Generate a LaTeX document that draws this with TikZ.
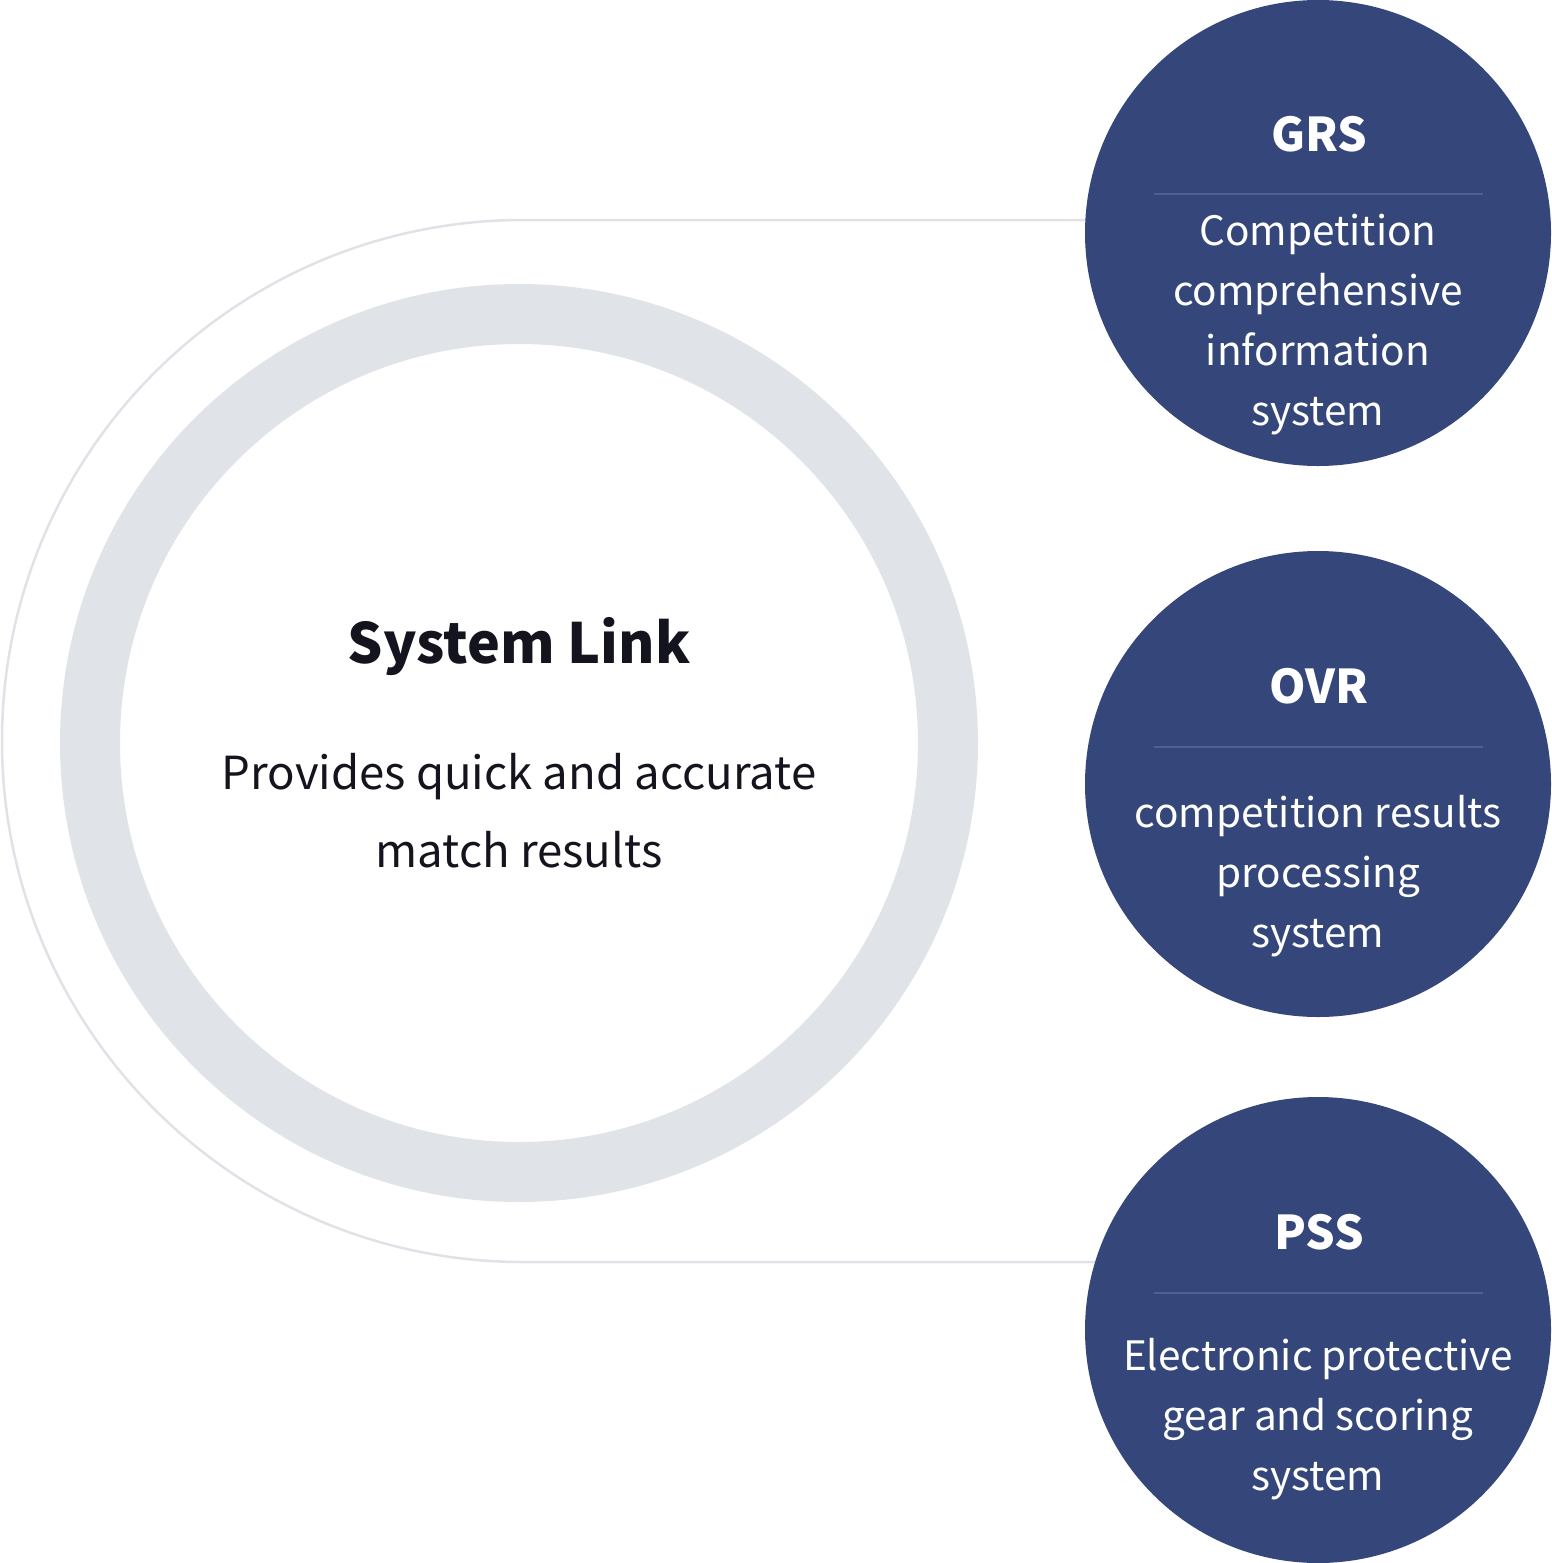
\documentclass[tikz,border=0pt]{standalone}
\usepackage{fontspec}
\setmainfont{Noto Sans CJK KR}
\usetikzlibrary{backgrounds}
\definecolor{navy}{HTML}{35477A}
\definecolor{ringgray}{HTML}{E0E3E8}
\definecolor{thingray}{HTML}{E0E2E7}
\definecolor{sepblue}{HTML}{4E6191}
\definecolor{inkdark}{HTML}{14141E}
\tikzset{
  sysbubble/.style={circle, fill=navy, minimum size=466pt, inner sep=0pt},
  bubtitle/.style={anchor=base, text=white, font=\fontsize{46.5}{56}\selectfont\bfseries},
  bubtext/.style={anchor=base, text=white, align=center, font=\fontsize{40.5}{60}\selectfont},
  sepline/.style={draw=sepblue, line width=2.5pt},
  linkline/.style={draw=thingray, line width=2.5pt},
}
\begin{document}
\begin{tikzpicture}[x=1pt,y=-1pt]
\path[use as bounding box] (0,0) rectangle (1551,1563);
% central ring
\node[circle, draw=ringgray, line width=60pt, minimum size=858pt, inner sep=0pt] (ring) at (519,743) {};
\node[anchor=base, text=inkdark, font=\fontsize{55.5}{66}\selectfont\bfseries] (title) at (519,663) {System Link};
\node[anchor=base, text=inkdark, align=center, font=\fontsize{45.5}{78}\selectfont] (desc) at (519,867) {Provides quick and accurate\\match results};
% bubbles
\node[sysbubble] (grs) at (1318,233) {};
\node[sysbubble] (ovr) at (1318,784) {};
\node[sysbubble] (pss) at (1318,1330) {};
% connectors
\coordinate (ctop) at (523,220);
\coordinate (cbot) at (523,1262);
\begin{scope}[on background layer]
\draw[linkline] (ctop -| grs.center) -- (ctop) arc[start angle=90, end angle=270, radius=521pt] -- (cbot -| pss.center);
\end{scope}
% GRS
\node[bubtitle] (grst) at (1319,151) {GRS};
\coordinate (g1) at (1154,194); \coordinate (g2) at (1483,194);
\draw[sepline] (g1) -- (g2);
\node[bubtext] (grsb) at (1318,425) {Competition\\comprehensive\\information\\system};
% OVR
\node[bubtitle] (ovrt) at (1319,703) {OVR};
\coordinate (o1) at (1154,747); \coordinate (o2) at (1483,747);
\draw[sepline] (o1) -- (o2);
\node[bubtext] (ovrb) at (1318,947) {competition results\\processing\\system};
% PSS
\node[bubtitle] (psst) at (1319,1249) {PSS};
\coordinate (p1) at (1154,1293); \coordinate (p2) at (1483,1293);
\draw[sepline] (p1) -- (p2);
\node[bubtext] (pssb) at (1318,1490) {Electronic protective\\gear and scoring\\system};
\end{tikzpicture}
\end{document}
